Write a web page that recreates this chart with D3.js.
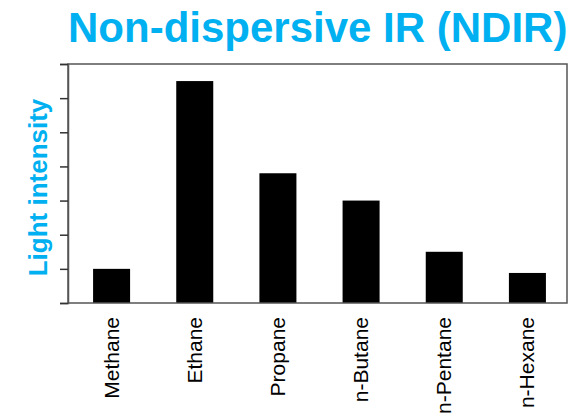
<!DOCTYPE html>
<html>
<head>
<meta charset="utf-8">
<script src="https://cdn.jsdelivr.net/npm/d3@7"></script>
<style>
  html, body { margin: 0; padding: 0; background: #fff; }
  svg { display: block; }
  text { font-family: "Liberation Sans", Arial, sans-serif; }
</style>
</head>
<body>
<div id="chart"></div>
<script>
const categories = ["Methane", "Ethane", "Propane", "n-Butane", "n-Pentane", "n-Hexane"];
const values = [1.0, 6.5, 3.8, 3.0, 1.5, 0.88];
const yTicks = [0, 1, 2, 3, 4, 5, 6, 7];
const title = "Non-dispersive IR (NDIR)";
const yLabel = "Light intensity";

const W = 576, H = 418;
const frame = { left: 68, right: 567, top: 64, bottom: 303 };
const blue = "#00B0F0";

const svg = d3.select("#chart").append("svg")
  .attr("width", W).attr("height", H);

const y = d3.scaleLinear().domain([0, 7]).range([frame.bottom, frame.top]);
const x = d3.scaleBand().domain(categories)
  .range([70, 569]).paddingInner(0.555).paddingOuter(0.2775);

// bars
svg.append("g").selectAll("rect").data(values).join("rect")
  .attr("x", (d, i) => x(categories[i]))
  .attr("width", x.bandwidth())
  .attr("y", d => y(d))
  .attr("height", d => y(0) - y(d))
  .attr("fill", "#000");

// frame
svg.append("rect")
  .attr("x", frame.left).attr("y", frame.top)
  .attr("width", frame.right - frame.left)
  .attr("height", frame.bottom - frame.top)
  .attr("fill", "none").attr("stroke", "#555").attr("stroke-width", 1.5);

// y axis ticks (no labels)
const yAxis = d3.axisLeft(y).tickValues(yTicks).tickSize(8).tickFormat("");
const gy = svg.append("g").attr("transform", `translate(${frame.left},0)`).call(yAxis);
gy.select(".domain").attr("stroke", "#555").attr("stroke-width", 1.5);
gy.selectAll(".tick line").attr("stroke", "#333").attr("stroke-width", 1.5);

// x labels
const xAxis = d3.axisBottom(x).tickSize(0).tickPadding(0);
const gx = svg.append("g").attr("transform", `translate(0,${frame.bottom})`).call(xAxis);
gx.select(".domain").remove();
gx.selectAll(".tick text")
  .attr("font-size", 21)
  .attr("fill", "#000")
  .attr("text-anchor", "end")
  .attr("transform", "rotate(-90)")
  .attr("x", -14)
  .attr("y", 0)
  .attr("dy", "0.33em");

// title
svg.append("text")
  .attr("x", 68).attr("y", 42)
  .attr("font-size", 42).attr("font-weight", "bold")
  .attr("fill", blue)
  .text(title);

// y label
svg.append("text")
  .attr("transform", `translate(46.5,187.5) rotate(-90)`)
  .attr("text-anchor", "middle")
  .attr("font-size", 26).attr("font-weight", "bold")
  .attr("fill", blue)
  .text(yLabel);
</script>
</body>
</html>
